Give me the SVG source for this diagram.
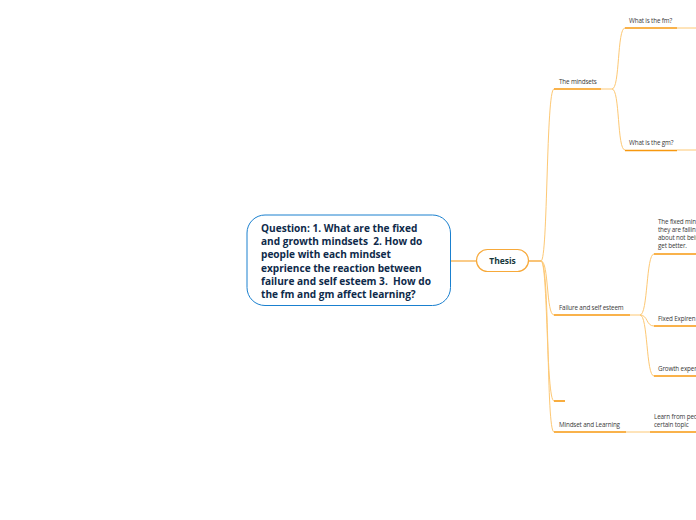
<svg xmlns="http://www.w3.org/2000/svg" width="696" height="520" viewBox="0 0 696 520">
<style>
.c{fill:none;stroke:#fdc874;stroke-width:1}
.u{fill:none;stroke:#f7980f;stroke-width:1.6}
.ul{fill:none;stroke:#fdc874;stroke-width:1}
.s{font-family:"Open Sans","Liberation Sans",sans-serif;font-size:6.3px;fill:#3a3a3a;letter-spacing:-0.15px}
.q{font-family:"Open Sans","Liberation Sans",sans-serif;font-size:10.1px;font-weight:bold;fill:#0e2a4a;white-space:pre}
</style>
<rect width="696" height="520" fill="#fff"/>
<g id="connectors">
<path class="c" d="M451,261 H476" style="stroke:#f7a93a;stroke-width:1.2"/>
<path class="c" d="M529,261 H541" style="stroke:#f7a93a;stroke-width:1.4"/>
<path class="c" d="M541,261 C548,261 546,89 554,89"/>
<path class="c" d="M541,261 C549,261 546,315 554,315"/>
<path class="c" d="M541,261 C548,261 546,401 554,401"/>
<path class="c" d="M541,261 C550,261 546,432 554,432"/>
<path class="ul" d="M601,89 H612"/>
<path class="c" d="M612,89 C620,89 617,28 625,28"/>
<path class="c" d="M612,89 C620,89 617,150 625,150"/>
<path class="ul" d="M677,28 H696"/>
<path class="ul" d="M677,150 H696"/>
<path class="ul" d="M630,315 H640"/>
<path class="c" d="M640,315 C648,315 646,254 654,254"/>
<path class="c" d="M640,315 C648,315 646,326 654,326"/>
<path class="c" d="M640,315 C648,315 646,376 654,376"/>
<path class="ul" d="M626,432 H650"/>
</g>
<g id="question">
<rect x="247" y="215" width="203.5" height="90.5" rx="18" fill="#fff" stroke="#1a80cf" stroke-width="1"/>
<text class="q" x="261" y="232" xml:space="preserve">Question: 1. What are the fixed</text>
<text class="q" x="261" y="245.2" xml:space="preserve">and growth mindsets  2. How do</text>
<text class="q" x="261" y="258.4" xml:space="preserve">people with each mindset</text>
<text class="q" x="261" y="271.6" xml:space="preserve">exprience the reaction between</text>
<text class="q" x="261" y="284.8" xml:space="preserve">failure and self esteem 3.  How do</text>
<text class="q" x="261" y="298" xml:space="preserve">the fm and gm affect learning?</text>
</g>
<g id="thesis">
<rect x="476.5" y="249.5" width="52" height="22" rx="11" fill="#fff" stroke="#f7a93a" stroke-width="1.2"/>
<text x="502.5" y="264" text-anchor="middle" font-family="'Open Sans','Liberation Sans',sans-serif" font-size="8.5" font-weight="bold" fill="#17383c">Thesis</text>
</g>
<g id="mindsets">
<path class="u" d="M554,89 H601"/>
<text class="s" x="559" y="84">The mindsets</text>
</g>
<g id="fm">
<path class="u" d="M625,28 H677"/>
<text class="s" x="629" y="22.5">What is the fm?</text>
</g>
<g id="gm">
<path class="u" d="M625,150.5 H677"/>
<text class="s" x="629" y="145">What is the gm?</text>
</g>
<g id="failure">
<path class="u" d="M554,315 H630"/>
<text class="s" x="559" y="310">Failure and self esteem</text>
</g>
<g id="fixed-mindset">
<path class="u" d="M654,254 H696"/>
<text class="s" x="658" y="224">The fixed min</text>
<text class="s" x="658" y="232">they are failin</text>
<text class="s" x="658" y="240">about not bein</text>
<text class="s" x="658" y="248">get better.</text>
</g>
<g id="fixed-exp">
<path class="u" d="M654,326 H696"/>
<text class="s" x="658" y="320.5">Fixed Expiren</text>
</g>
<g id="growth-exp">
<path class="u" d="M654,376 H696"/>
<text class="s" x="658" y="371">Growth exper</text>
</g>
<g id="empty">
<path class="u" d="M554,401 H565"/>
</g>
<g id="learning">
<path class="u" d="M554,432 H626"/>
<text class="s" x="559" y="427">Mindset and Learning</text>
</g>
<g id="learn-from">
<path class="u" d="M650,432 H696"/>
<text class="s" x="654" y="419">Learn from peo</text>
<text class="s" x="654" y="427">certain topic</text>
</g>
</svg>
